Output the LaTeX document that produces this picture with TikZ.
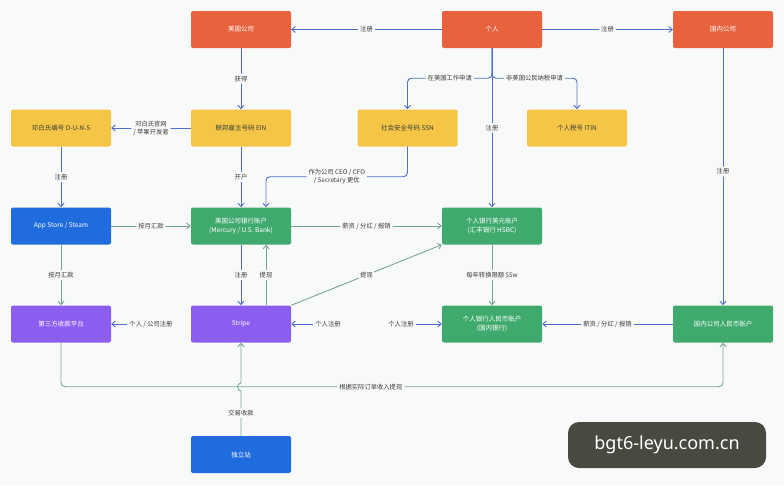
\documentclass[tikz,border=0pt]{standalone}
\usepackage{fontspec}
\setmainfont{Noto Sans CJK SC}
\newfontfamily\wmfont{Noto Sans}
\usetikzlibrary{arrows.meta}
\definecolor{bgc}{RGB}{248,250,249}
\definecolor{orc}{RGB}{232,98,62}
\definecolor{yec}{RGB}{245,198,70}
\definecolor{blc}{RGB}{32,108,222}
\definecolor{grc}{RGB}{64,170,110}
\definecolor{puc}{RGB}{140,94,240}
\definecolor{lnb}{RGB}{80,112,200}
\definecolor{lng}{RGB}{120,165,145}
\definecolor{txt}{RGB}{60,60,60}
\definecolor{wmc}{RGB}{70,74,64}
\tikzset{
  box/.style={draw=none, rounded corners=2pt, minimum width=100pt, minimum height=37pt,
    inner sep=1pt, align=center, font=\fontsize{6.5}{8.5}\selectfont, text=white},
  ybox/.style={box, fill=yec, text=txt},
  lbl/.style={fill=bgc, inner sep=2pt, align=center, text=txt, font=\fontsize{6.3}{8}\selectfont},
  bl/.style={draw=lnb, line width=0.9pt, rounded corners=4pt, -{Straight Barb[length=3.5pt,width=6pt]}},
  gl/.style={draw=lng, line width=0.9pt, rounded corners=4pt, -{Straight Barb[length=3.5pt,width=6pt]}}
}
\begin{document}
\begin{tikzpicture}[x=1pt,y=-1pt]
\useasboundingbox[fill=bgc] (0,0) rectangle (784,485);
% nodes
\node[box, fill=orc] (us) at (241,29.5) {美国公司};
\node[box, fill=orc] (me) at (492,29.5) {个人};
\node[box, fill=orc] (cn) at (723,29.5) {国内公司};
\node[ybox] (duns) at (61,128) {邓白氏编号 D-U-N-S};
\node[ybox] (ein) at (241,128) {联邦雇主号码 EIN};
\node[ybox] (ssn) at (407.5,128) {社会安全号码 SSN};
\node[ybox] (itin) at (577,128) {个人税号 ITIN};
\node[box, fill=blc] (app) at (61,226) {App Store / Steam};
\node[box, fill=grc] (bank) at (241,226) {美国公司银行账户\\(Mercury / U.S. Bank)};
\node[box, fill=grc] (hsbc) at (492,226) {个人银行美元账户\\(汇丰银行 HSBC)};
\node[box, fill=puc] (third) at (61,324) {第三方收款平台};
\node[box, fill=puc] (stripe) at (241,324) {Stripe};
\node[box, fill=grc] (rmb) at (492,324) {个人银行人民币账户\\(国内银行)};
\node[box, fill=grc] (cnrmb) at (723,324) {国内公司人民币账户};
\node[box, fill=blc] (indie) at (241,454.5) {独立站};
% free labels
\node[lbl] (l1) at (151,324) {个人 / 公司注册};
\node[lbl] (l2) at (328,324) {个人注册};
\node[lbl] (l3) at (401,324) {个人注册};
% connectors
\draw[bl] (me) -- node[lbl]{注册} (us);
\draw[bl] (me) -- node[lbl]{注册} (cn);
\draw[bl] (us) -- node[lbl]{获得} (ein);
\draw[bl] (me.south) -- ++(0,30) -| node[lbl, pos=0.25]{在美国工作申请} (ssn.north);
\draw[bl] (me.south) -- ++(0,30) -| node[lbl, pos=0.25]{非美国公民纳税申请} (itin.north);
\draw[bl] (me) -- node[lbl]{注册} (hsbc);
\draw[bl] (ein) -- node[lbl]{邓白氏官网\\/ 苹果开发者} (duns);
\draw[bl] (duns) -- node[lbl]{注册} (app);
\draw[bl] (ein) -- node[lbl]{开户} (bank);
\draw[bl] (ssn.south) -- ++(0,30) -| node[lbl, pos=0.25]{作为公司 CEO / CFO\\/ Secretary 更优} ([xshift=25pt]bank.north);
\draw[bl] (cn) -- node[lbl, pos=0.48]{注册} (cnrmb);
\draw[gl] (app) -- node[lbl]{按月汇款} (bank);
\draw[gl] (app) -- node[lbl]{按月汇款} (third);
\draw[gl] (bank) -- node[lbl]{薪资 / 分红 / 报销} (hsbc);
\draw[bl] (bank) -- node[lbl]{注册} (stripe);
\draw[gl] ([xshift=25pt]stripe.north) -- node[lbl]{提现} ([xshift=25pt]bank.south);
\draw[gl] (stripe.north east) -- node[lbl]{提现} (hsbc.south west);
\draw[bl] (l1) -- (third);
\draw[bl] (l2) -- (stripe);
\draw[bl] (l3) -- (rmb);
\draw[bl] (cnrmb) -- node[lbl]{薪资 / 分红 / 报销} (rmb);
\draw[gl] (hsbc) -- node[lbl]{每年转换限额 \$5w} (rmb);
\draw[gl] (third.south) -- ++(0,44) -| node[lbl, pos=0.234]{根据实际订单收入提现} (cnrmb.south);
\draw[gl, rounded corners=0pt] (indie.north) -- node[lbl]{交易收款} (241,391)
   .. controls (236.5,391) and (236.5,383) .. (241,383) -- (stripe.south);
% watermark
\node[fill=wmc, rounded corners=11pt, minimum width=198pt, minimum height=46pt, text=white,
  font=\wmfont\fontsize{18}{20}\selectfont] (wm) at (667,445) {bgt6-leyu.com.cn};
\end{tikzpicture}
\end{document}
